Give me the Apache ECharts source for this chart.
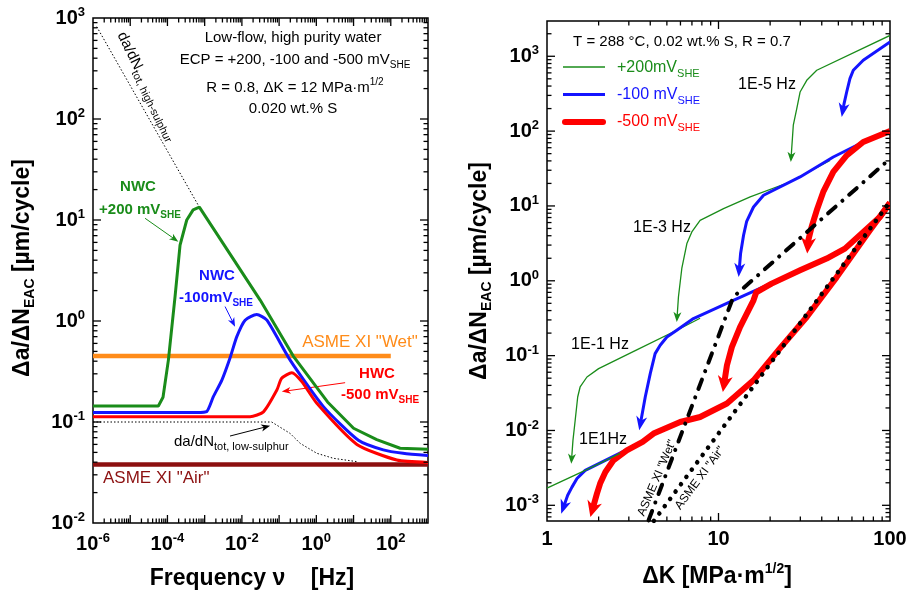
<!DOCTYPE html>
<html><head><meta charset="utf-8">
<script src="https://cdn.jsdelivr.net/npm/echarts@6/dist/echarts.min.js"></script>
<style>html,body{margin:0;padding:0;background:#fff}#c{width:912px;height:595px}</style>
</head><body><div id="c"></div>
<script>
// ---------------- LEFT PANEL: frequency [Hz] vs da/dN_EAC [µm/cycle] ----------------
const leftGreen = [[1e-6,0.144],[5.7e-5,0.144],[7.6e-5,0.176],[1.06e-4,0.41],[1.6e-4,1.74],[2.18e-4,5.65],[3.3e-4,10],[4.9e-4,12.6],[7.2e-4,13.4],[0.031,1.61],[0.24,0.45],[2.0,0.158],[10,0.0867],[42,0.067],[178,0.055],[1000,0.0537]];
const leftBlue = [[1e-6,0.124],[6.2e-4,0.124],[1.14e-3,0.127],[1.71e-3,0.178],[2.9e-3,0.26],[4.8e-3,0.43],[7.3e-3,0.70],[0.0122,1.02],[0.025,1.16],[0.047,1.02],[0.198,0.41],[1.55,0.142],[13.5,0.066],[63,0.053],[214,0.049],[1000,0.0465]];
const leftRed = [[1e-6,0.113],[0.0166,0.113],[0.038,0.126],[0.087,0.207],[0.117,0.271],[0.219,0.308],[0.407,0.251],[1.03,0.153],[12.3,0.060],[145,0.042],[1000,0.0398]];
const lowSulphur = [[1e-6,0.1],[0.063,0.1],[0.087,0.093],[0.198,0.077],[0.367,0.0615],[1.03,0.049],[2.88,0.0437],[12.3,0.0405]];
const highSulphur = [[1.26e-6,820],[7.2e-4,13.4]];
const asmeWetLeft = [[1e-6,0.45],[100,0.45]];
const asmeAirLeft = [[1e-6,0.038],[1000,0.038]];
// annotation arrows (data space)
const annGreen = [[2.5e-5,10.4],[1.96e-4,6.1]];
const annBlue = [[3.53e-3,1.39],[6.56e-3,0.878]];
const annRed = [[5.94,0.245],[0.118,0.2]];
const annBlack = [[4.8e-3,0.0726],[0.0573,0.0918]];

// ---------------- RIGHT PANEL: ΔK [MPa·m^1/2] vs da/dN_EAC ----------------
const g200_1E5 = [[100,1900],[37.4,650],[32.7,477],[29.9,333],[28.6,200],[27.3,120],[26.4,38.6]];
const g200_1E3 = [[44.7,40.7],[26.1,20.9],[15.3,13.2],[10.7,9.22],[7.81,6.43],[6.99,4.49],[6.54,3.14],[6.11,1.46],[5.84,0.607],[5.71,0.281]];
const g200_1E1 = [[7.81,0.316],[5.71,0.218],[3.36,0.12],[2.0,0.067],[1.71,0.0518],[1.56,0.0381],[1.51,0.028],[1.46,0.01368],[1.417,0.00738],[1.385,0.0036]];
const g200_10Hz = [[2.67,0.00495],[1.67,0.00293],[1,0.0017]];
const b100_1E5 = [[100,1550],[69.8,885],[61.1,650],[58.4,503],[55.9,333],[53.9,229],[52.3,154.5]];
const b100_1E3 = [[69.8,71.6],[46.7,45.1],[29.9,24.4],[18.3,13.9],[16.0,9.68],[14.6,6.24],[14.0,4.06],[13.45,2.31],[13.1,1.12]];
const b100_1E1 = [[19.1,0.871],[12.2,0.549],[7.14,0.313],[5.71,0.218],[5.0,0.1774],[4.57,0.1374],[4.27,0.1064],[4.0,0.0575],[3.74,0.028],[3.45,0.01005]];
const b100_10Hz = [[3.61,0.00702],[1.67,0.00293],[1.496,0.00228],[1.398,0.00175],[1.32,0.00136],[1.21,7.74e-4]];
const r500_1E5 = [[100,100],[69.8,71.6],[55.9,47.5],[46.7,28.5],[40.8,15.4],[37.4,8.75],[34.9,5.24],[33.4,3.48],[32.9,2.31]];
const r500_1E3 = [[100,11],[87.3,7.12],[54.6,2.69],[42.7,1.98],[29.9,1.38],[20.4,0.917],[19.1,0.844],[16.6,0.701],[16.0,0.549],[13.35,0.241],[11.96,0.130],[11.2,0.0743],[10.6,0.0327]];
const r500_1E1 = [[100,11],[76.4,4.73],[48.9,1.12],[32.7,0.328],[22.8,0.125],[16.0,0.0468],[11.2,0.0229],[7.81,0.01514],[5.98,0.01298],[4.18,0.00908],[3.61,0.00702],[2.92,0.00543],[2.44,0.00399],[2.19,0.00279],[2.04,0.00195],[1.955,0.00143],[1.79,6.97e-4]];
const asmeWetRight = [[3.91,6.3e-4],[12.2,0.607],[97.6,40.7]];
const asmeAirRight = [[4.2,6.2e-4],[97.7,10.6]];

// ---------------- axes / ticks ----------------
const leftXRange = [1e-6, 1e3], leftYRange = [1e-2, 1e3];
const rightXRange = [1, 100], rightYRange = [6.17e-4, 2960];
function majors(a, b) { const r = []; for (let e = a; e <= b; e++) r.push(Math.pow(10, e)); return r; }
function minors(a, b, lo, hi) { const r = []; for (let e = a; e <= b; e++) for (let m = 2; m <= 9; m++) { const v = m * Math.pow(10, e); if (v > lo && v < hi) r.push(v); } return r; }
const leftXMajor = majors(-5, 2), leftXMinor = minors(-6, 2, 1e-6, 1e3);
const leftYMajor = majors(-1, 2), leftYMinor = minors(-2, 2, 1e-2, 1e3);
const rightXMajor = majors(1, 1), rightXMinor = minors(0, 1, 1, 100);
const rightYMajor = majors(-3, 3), rightYMinor = minors(-4, 3, 6.17e-4, 2960);
const leftXLabelExps = [-6, -4, -2, 0, 2];
const leftYLabelExps = [-2, -1, 0, 1, 2, 3];
const rightXLabels = ['1', '10', '100'];
const rightYLabelExps = [-3, -2, -1, 0, 1, 2, 3];

const FF = "'Liberation Sans', Arial, Helvetica, sans-serif";
const C = {green: '#1a8c1a', blue: '#1414ff', red: '#ff0000', orange: '#ff8c1a', dred: '#8c1010', black: '#000'};
const gridRects = [{left: 93, top: 18, width: 335, height: 505}, {left: 547, top: 21, width: 343, height: 500}];

function lineSeries(data, color, width, xi, yi, extra) {
  return Object.assign({type: 'line', xAxisIndex: xi, yAxisIndex: yi, data, showSymbol: false, symbol: 'none',
    clip: true, silent: true, animation: false,
    lineStyle: {color, width}}, extra || {});
}
function branchSeries(branches, color, width, L, W, xi, yi) {
  return {type: 'custom', xAxisIndex: xi, yAxisIndex: yi, clip: true, silent: true,
    data: branches.map((b, i) => [b[b.length - 1][0], b[b.length - 1][1], i]),
    encode: {x: 0, y: 1},
    renderItem: (params, api) => {
      const b = branches[params.dataIndex];
      const pts = b.map(p => api.coord(p));
      const n = pts.length, tip = pts[n - 1], prev = pts[n - 2];
      let dx = tip[0] - prev[0], dy = tip[1] - prev[1];
      const d = Math.hypot(dx, dy) || 1; dx /= d; dy /= d;
      const nx = -dy, ny = dx;
      const bx = tip[0] - L * dx, by = tip[1] - L * dy;
      const notch = [tip[0] - L * 0.72 * dx, tip[1] - L * 0.72 * dy];
      const line = pts.slice(0, n - 1).concat([[tip[0] - L * 0.6 * dx, tip[1] - L * 0.6 * dy]]);
      return {type: 'group', children: [
        {type: 'polyline', shape: {points: line}, style: {stroke: color, lineWidth: width, fill: null, lineJoin: 'round'}},
        {type: 'polygon', shape: {points: [tip, [bx + W * nx, by + W * ny], notch, [bx - W * nx, by - W * ny]]}, style: {fill: color}}
      ]};
    }};
}

const richAxis = {
  b: {fontSize: 20, fontWeight: 'bold', fontFamily: FF, color: '#000', lineHeight: 24},
  s: {fontSize: 13, fontWeight: 'bold', fontFamily: FF, color: '#000', verticalAlign: 'top', lineHeight: 13}
};
function expOf(v) { const l = Math.log10(v); const e = Math.round(l); return Math.abs(l - e) < 1e-6 ? e : null; }
function powLabel(allowed) {
  return v => { const e = expOf(v); if (e === null || allowed.indexOf(e) < 0) return ''; return '{b|10}{s|' + e + '}'; };
}

function rich(size, color, bold, subScale) {
  const w = bold ? 'bold' : 'normal';
  const ss = Math.round(size * (subScale || 0.68));
  return {
    n: {fontSize: size, fontFamily: FF, fontWeight: w, fill: color, lineHeight: size + 6},
    sub: {fontSize: ss, fontFamily: FF, fontWeight: w, fill: color, verticalAlign: 'bottom', lineHeight: ss},
    sup: {fontSize: ss, fontFamily: FF, fontWeight: w, fill: color, verticalAlign: 'top', lineHeight: ss}
  };
}
function txt(x, y, text, o) {
  o = o || {};
  const size = o.size || 15, color = o.color || '#000';
  return {type: 'text', x, y, rotation: (o.rot || 0) * Math.PI / 180, z: 100, silent: true,
    style: {text, fill: color, fontFamily: FF, fontSize: size, fontWeight: o.bold ? 'bold' : 'normal',
      lineHeight: size + 6, align: o.align || 'center', verticalAlign: 'middle', rich: rich(size, color, o.bold, o.subScale)}};
}

const graphics = [
  // left panel annotations
  txt(293, 38, 'Low-flow, high purity water'),
  txt(295, 60, 'ECP = +200, -100 and -500 mV{sub|SHE}'),
  txt(295, 88, 'R = 0.8, ΔK = 12 MPa·m{sup|1/2}'),
  txt(293, 109, '0.020 wt.% S'),
  txt(121, 33, 'da/dN{sub|tot, high-sulphur}', {align: 'left', rot: -64, subScale: 0.72}),
  txt(138, 187, 'NWC', {bold: true, color: C.green}),
  txt(140, 210, '+200 mV{sub|SHE}', {bold: true, color: C.green}),
  txt(217, 276, 'NWC', {bold: true, color: C.blue}),
  txt(216, 298, '-100mV{sub|SHE}', {bold: true, color: C.blue}),
  txt(360, 342, 'ASME XI "Wet"', {size: 17, color: C.orange}),
  txt(377, 374, 'HWC', {bold: true, color: C.red}),
  txt(380, 395, '-500 mV{sub|SHE}', {bold: true, color: C.red}),
  txt(174, 442, 'da/dN{sub|tot, low-sulphur}', {align: 'left', subScale: 0.72}),
  txt(103, 478, 'ASME XI "Air"', {size: 17, color: C.dred, align: 'left'}),
  // right panel annotations
  txt(682, 42, 'T = 288 °C, 0.02 wt.% S, R = 0.7'),
  {type: 'line', z: 100, shape: {x1: 563, y1: 67, x2: 605, y2: 67}, style: {stroke: C.green, lineWidth: 1.3}},
  {type: 'line', z: 100, shape: {x1: 563, y1: 94.5, x2: 605, y2: 94.5}, style: {stroke: C.blue, lineWidth: 3}},
  {type: 'line', z: 100, shape: {x1: 565, y1: 122, x2: 603, y2: 122}, style: {stroke: C.red, lineWidth: 6, lineCap: 'round'}},
  txt(617, 68, '+200mV{sub|SHE}', {size: 16, color: C.green, align: 'left'}),
  txt(617, 95, '-100 mV{sub|SHE}', {size: 16, color: C.blue, align: 'left'}),
  txt(617, 122, '-500 mV{sub|SHE}', {size: 16, color: C.red, align: 'left'}),
  txt(767, 85, '1E-5 Hz', {size: 16}),
  txt(662, 228, '1E-3 Hz', {size: 16}),
  txt(600, 345, '1E-1 Hz', {size: 16}),
  txt(603, 440, '1E1Hz', {size: 16}),
  txt(657, 478, 'ASME XI "Wet"', {size: 12, rot: 67}),
  txt(700, 478, 'ASME XI "Air"', {size: 12, rot: 53.5}),
  // axis titles
  txt(23, 268, 'Δa/ΔN{sub|EAC} [µm/cycle]', {size: 23, bold: true, rot: 90, subScale: 0.62}),
  txt(480, 271, 'Δa/ΔN{sub|EAC} [µm/cycle]', {size: 23, bold: true, rot: 90, subScale: 0.62}),
  txt(252, 579, 'Frequency ν    [Hz]', {size: 23, bold: true}),
  txt(717, 577, 'ΔK [MPa·m{sup|1/2}]', {size: 23, bold: true, subScale: 0.6})
];

function ax(extra) {
  return Object.assign({type: 'log', logBase: 10, axisLine: {show: false},
    axisTick: {show: false}, splitLine: {show: false}, minorTick: {show: false}}, extra);
}

const option = {
  animation: false,
  grid: gridRects.map(r => Object.assign({}, r, {show: true, borderColor: '#000', borderWidth: 1.5, backgroundColor: 'transparent'})),
  xAxis: [
    ax({gridIndex: 0, position: 'bottom', min: leftXRange[0], max: leftXRange[1],
      axisLabel: {margin: 9, formatter: powLabel(leftXLabelExps), rich: richAxis}}),
    ax({gridIndex: 1, position: 'bottom', min: rightXRange[0], max: rightXRange[1],
      axisLabel: {margin: 6, formatter: v => { const e = expOf(v); return e === null ? '' : '{b|' + rightXLabels[e] + '}'; }, rich: richAxis}})
  ],
  yAxis: [
    ax({gridIndex: 0, position: 'left', min: leftYRange[0], max: leftYRange[1],
      axisLabel: {margin: 8, formatter: powLabel(leftYLabelExps), rich: richAxis}}),
    ax({gridIndex: 1, position: 'left', min: rightYRange[0], max: rightYRange[1],
      axisLabel: {margin: 8, formatter: powLabel(rightYLabelExps), rich: richAxis}})
  ],
  series: [
    // left panel
    lineSeries(asmeWetLeft, C.orange, 4.5, 0, 0),
    lineSeries(asmeAirLeft, C.dred, 4.5, 0, 0),
    lineSeries(highSulphur, '#000', 1, 0, 0, {lineStyle: {color: '#000', width: 1, type: [1.5, 2]}}),
    lineSeries(lowSulphur, '#000', 1, 0, 0, {lineStyle: {color: '#000', width: 1, type: [1.5, 2]}}),
    lineSeries(leftGreen, C.green, 3, 0, 0),
    lineSeries(leftBlue, C.blue, 3, 0, 0, {smooth: 0.2}),
    lineSeries(leftRed, C.red, 3, 0, 0, {smooth: 0.2}),
    branchSeries([annGreen], C.green, 1, 9, 3.5, 0, 0),
    branchSeries([annBlue], C.blue, 1, 9, 3.5, 0, 0),
    branchSeries([annRed], C.red, 1, 9, 3.5, 0, 0),
    branchSeries([annBlack], '#000', 1, 9, 3.5, 0, 0),
    // right panel
    lineSeries(g200_10Hz, C.green, 1.3, 1, 1),
    branchSeries([g200_1E5, g200_1E3, g200_1E1], C.green, 1.3, 10, 4, 1, 1),
    branchSeries([b100_1E5, b100_1E3, b100_1E1, b100_10Hz], C.blue, 3, 14, 5.5, 1, 1),
    branchSeries([r500_1E5, r500_1E3, r500_1E1], C.red, 6, 16, 7.5, 1, 1),
    lineSeries(asmeWetRight, '#000', 4, 1, 1, {lineStyle: {color: '#000', width: 4, type: [10, 9, 0.1, 9], cap: 'round'}}),
    lineSeries(asmeAirRight, '#000', 4.5, 1, 1, {lineStyle: {color: '#000', width: 4.5, type: [0.1, 9], cap: 'round'}})
  ],
  graphic: graphics
};
const chart = echarts.init(document.getElementById('c'), null, {renderer: 'canvas'});
chart.setOption(option);

// tick marks on all four sides, positioned through the axes' own scales
const tickEls = [];
function seg(x1, y1, x2, y2) {
  return {type: 'line', z: 200, silent: true, shape: {x1, y1, x2, y2}, style: {stroke: '#000', lineWidth: 1.3}};
}
function addTicks(gi, xt, yt, xRef, yRef) {
  const r = gridRects[gi];
  xt.forEach(t => {
    const px = chart.convertToPixel({gridIndex: gi}, [t[0], yRef])[0];
    tickEls.push(seg(px, r.top + r.height, px, r.top + r.height - t[1]));
    tickEls.push(seg(px, r.top, px, r.top + t[1]));
  });
  yt.forEach(t => {
    const py = chart.convertToPixel({gridIndex: gi}, [xRef, t[0]])[1];
    tickEls.push(seg(r.left, py, r.left + t[1], py));
    tickEls.push(seg(r.left + r.width, py, r.left + r.width - t[1], py));
  });
}
const withLen = (maj, min) => maj.map(v => [v, 8]).concat(min.map(v => [v, 4.5]));
addTicks(0, withLen(leftXMajor, leftXMinor), withLen(leftYMajor, leftYMinor), 0.03, 1);
addTicks(1, withLen(rightXMajor, rightXMinor), withLen(rightYMajor, rightYMinor), 10, 1);
chart.setOption({graphic: graphics.concat(tickEls)});
</script>
</body></html>
